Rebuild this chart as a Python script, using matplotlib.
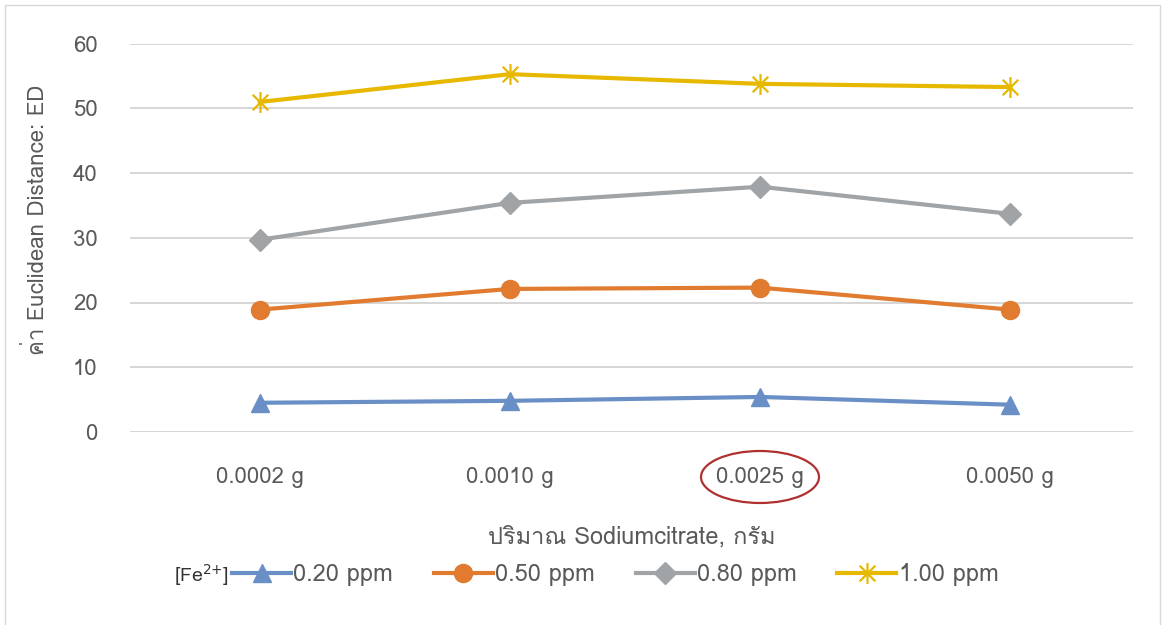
import matplotlib
matplotlib.use("Agg")
import matplotlib.pyplot as plt
from matplotlib import font_manager
from matplotlib.ft2font import FT2Font
from matplotlib.patches import Ellipse, Rectangle
from matplotlib.path import Path

categories = ["0.0002 g", "0.0010 g", "0.0025 g", "0.0050 g"]
series_names = ["0.20 ppm", "0.50 ppm", "0.80 ppm", "1.00 ppm"]
s020 = [4.5, 4.8, 5.4, 4.2]
s050 = [18.9, 22.1, 22.3, 18.9]
s080 = [29.7, 35.4, 37.9, 33.7]
s100 = [51.0, 55.3, 53.8, 53.3]
yticks = [0, 10, 20, 30, 40, 50, 60]

# find a font with Thai glyphs
thai_family = None
for f in font_manager.fontManager.ttflist:
    try:
        cm = FT2Font(f.fname).get_charmap()
        if ord("ป") in cm and ord("a") in cm:
            thai_family = f.name
            break
    except Exception:
        pass
fams = ([thai_family] if thai_family else []) + ["DejaVu Sans"]
plt.rcParams["font.family"] = fams

txt = "#595959"
fig = plt.figure(figsize=(11.68, 6.25), dpi=100)
ax = fig.add_axes([0.111, 0.309, 0.859, 0.621])

x = list(range(len(categories)))
star = Path([(0, -1), (0, 1), (-0.75, -0.75), (0.75, 0.75), (-0.75, 0.75), (0.75, -0.75)],
            [Path.MOVETO, Path.LINETO, Path.MOVETO, Path.LINETO, Path.MOVETO, Path.LINETO])
styles = [
    (s020, "#6A8FC6", "^", 13, None),
    (s050, "#E07B30", "o", 13, None),
    (s080, "#A0A4A7", "D", 11, None),
    (s100, "#E6B800", star, 15, 1.6),
]
handles = []
for (vals, col, mk, ms, mew), name in zip(styles, series_names):
    kw = dict(color=col, lw=3, marker=mk, markersize=ms, markerfacecolor=col,
              markeredgecolor=col, label=name)
    if mew:
        kw["markeredgewidth"] = mew
    h, = ax.plot(x, vals, **kw)
    handles.append(h)

ax.set_xlim(-0.52, 3.49)
ax.set_ylim(0, 60)
ax.set_yticks(yticks)
ax.set_xticks(x)
ax.set_xticklabels(categories)
ax.grid(axis="y", color="#D0D0D0", lw=1.2)
ax.set_axisbelow(True)
for s in ax.spines.values():
    s.set_visible(False)
ax.tick_params(axis="both", length=0, labelsize=16, labelcolor=txt)
ax.tick_params(axis="x", pad=25)
ax.tick_params(axis="y", pad=23)
ax.set_ylabel("ค่า Euclidean Distance: ED", fontsize=16, color=txt)
ax.yaxis.set_label_coords(-0.08, 0.545)
ax.set_xlabel("ปริมาณ Sodiumcitrate, กรัม", fontsize=17, color=txt, labelpad=27)

# red ellipse annotation around 0.0025 g
fig.patches.append(Ellipse((760 / 1168, 1 - 477 / 625), 118 / 1168, 52 / 625,
                           transform=fig.transFigure, fill=False, ec="#B03030", lw=1.6))
# frame
fig.patches.append(Rectangle((5 / 1168, -0.02), 1155 / 1168, 1 - 5 / 625 + 0.02,
                             transform=fig.transFigure, fill=False, ec="#D8D8D8", lw=1))

ly = 1 - 575 / 625
fig.text(174 / 1168, ly, "[Fe$^{2{+}}$]", fontsize=14, color="#333333",
         ha="left", va="center")
fig.legend(handles=handles, loc="center left", bbox_to_anchor=(232 / 1168, ly),
           bbox_transform=fig.transFigure,
           ncol=4, frameon=False, fontsize=17, handlelength=2.5, handletextpad=0.1,
           columnspacing=1.72, labelcolor=txt, borderpad=0, borderaxespad=0)

fig.savefig("out.png", dpi=100)
